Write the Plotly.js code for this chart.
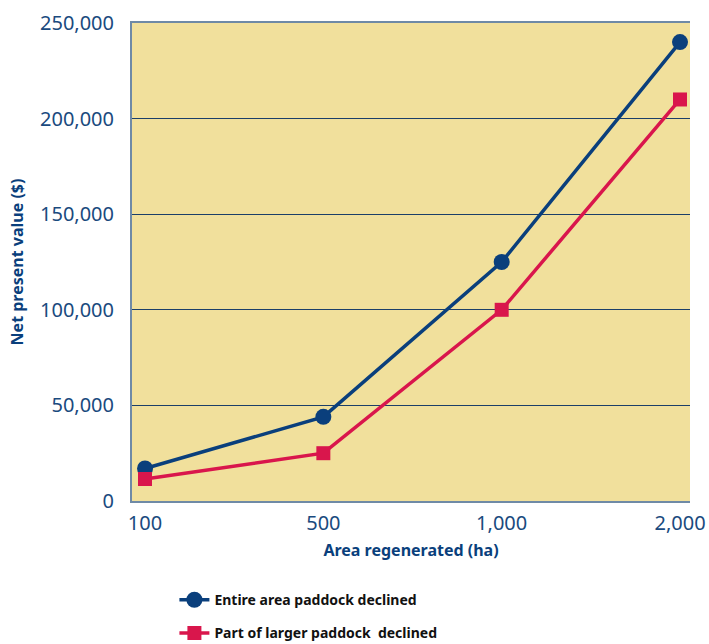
<!DOCTYPE html>
<html>
<head>
<meta charset="utf-8">
<script src="https://cdn.plot.ly/plotly-3.0.1.min.js"></script>
<style>html,body{margin:0;padding:0;background:#fff;}#chart{width:709px;height:644px;}</style>
</head>
<body>
<div id="chart"></div>
<script>
const categories = ["100", "500", "1,000", "2,000"];
const entireArea = [17000, 44000, 125000, 240000];
const partLarger = [11500, 25000, 100000, 210000];
const yTickVals = [0, 50000, 100000, 150000, 200000, 250000];
const yTickText = ["0", "50,000", "100,000", "150,000", "200,000", "250,000"];
const seriesNames = ["Entire area paddock declined", "Part of larger paddock  declined"];

const navy = "#0a3f7c";
const red = "#d9164c";
const tickColor = "#1a4a7e";

const traces = [
  {
    x: categories, y: entireArea, name: seriesNames[0], type: "scatter", mode: "lines+markers",
    line: {color: navy, width: 3.5}, marker: {symbol: "circle", size: 16, color: navy},
    legendgroup: "a"
  },
  {
    x: categories, y: partLarger, name: seriesNames[1], type: "scatter", mode: "lines+markers",
    line: {color: red, width: 3.5}, marker: {symbol: "square", size: 14, color: red},
    legendgroup: "b"
  }
];

const layout = {
  width: 709, height: 644,
  margin: {l: 132, r: 19, t: 23, b: 143, autoexpand: false},
  paper_bgcolor: "#ffffff",
  plot_bgcolor: "#f1e09c",
  font: {family: "Noto Sans, sans-serif", color: tickColor},
  showlegend: true,
  legend: {
    orientation: "v", x: 0.076, xanchor: "left", y: -0.174, yanchor: "top",
    font: {family: "Noto Sans, sans-serif", size: 14, color: "#111111", weight: "bold"},
    tracegroupgap: 12, bgcolor: "rgba(0,0,0,0)"
  },
  xaxis: {
    type: "category",
    range: [-0.073, 3.056],
    showgrid: false, zeroline: false,
    showline: true, linecolor: "#6f8aa6", linewidth: 2, mirror: true,
    ticks: "outside", ticklen: 3, tickcolor: "rgba(0,0,0,0)",
    tickfont: {size: 20, color: tickColor},
    title: {text: "Area regenerated (ha)", font: {size: 16, color: navy, weight: "bold"}, standoff: 10}
  },
  yaxis: {
    range: [0, 250000],
    tickvals: yTickVals, ticktext: yTickText,
    showgrid: true, gridcolor: "#1c3f68", gridwidth: 1,
    zeroline: false,
    showline: true, linecolor: "#6f8aa6", linewidth: 2,
    ticks: "outside", ticklen: 12, tickcolor: "rgba(0,0,0,0)",
    tickfont: {size: 20, color: tickColor},
    title: {text: "Net present value ($)", font: {size: 16, color: navy, weight: "bold"}, standoff: 12}
  }
};

Plotly.newPlot("chart", traces, layout, {displayModeBar: false, staticPlot: true});
</script>
</body>
</html>
